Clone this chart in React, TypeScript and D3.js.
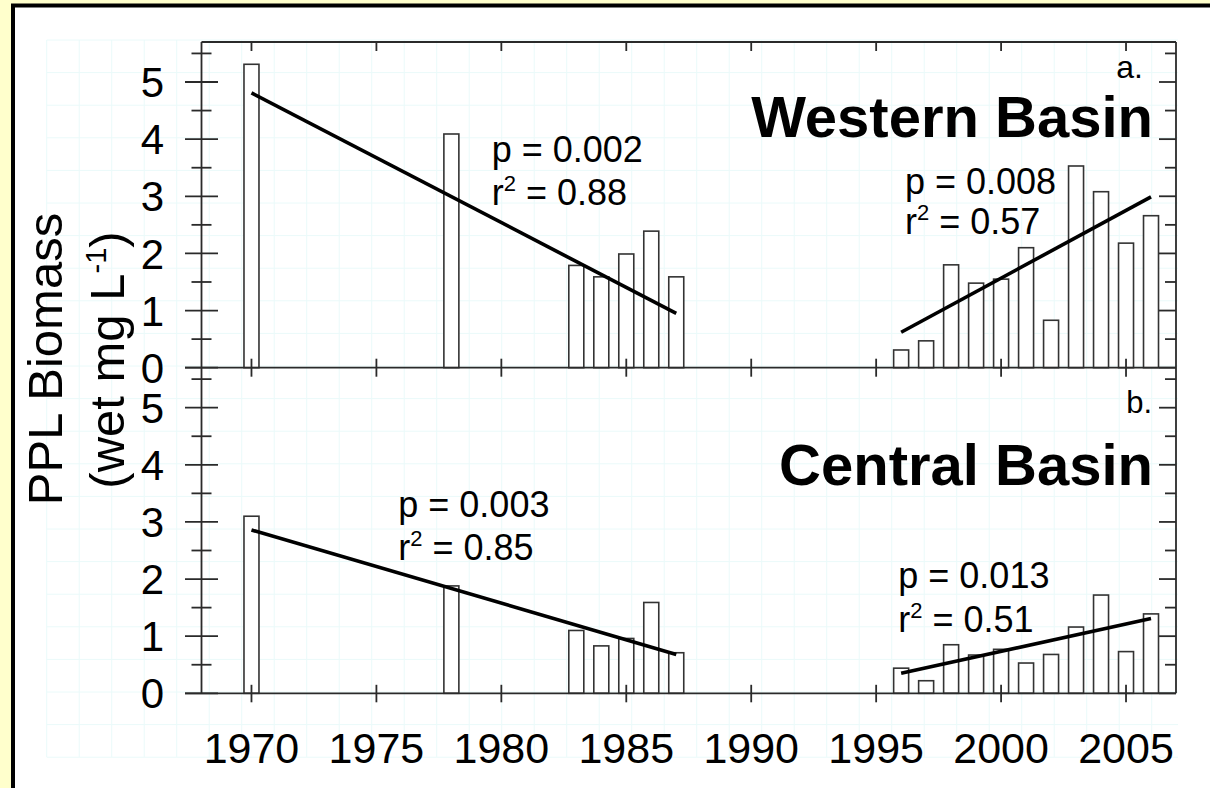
import React from "react";
import * as d3 from "d3";

// ---------- data ----------
const years = [1970, 1978, 1983, 1984, 1985, 1986, 1987, 1996, 1997, 1998, 1999, 2000, 2001, 2002, 2003, 2004, 2005, 2006];
const westernValues = [5.31, 4.09, 1.79, 1.59, 1.99, 2.39, 1.59, 0.31, 0.47, 1.8, 1.48, 1.55, 2.1, 0.83, 3.53, 3.08, 2.18, 2.66];
const centralValues = [3.1, 1.88, 1.1, 0.83, 0.96, 1.59, 0.71, 0.44, 0.22, 0.85, 0.67, 0.77, 0.53, 0.68, 1.16, 1.72, 0.73, 1.39];

const trendYearsEarly = [1970, 1987];
const trendYearsLate = [1996, 2006];
const westernTrendEarly = [4.81, 0.95];
const westernTrendLate = [0.62, 2.99];
const centralTrendEarly = [2.86, 0.68];
const centralTrendLate = [0.35, 1.31];

const xTickValues = [1970, 1975, 1980, 1985, 1990, 1995, 2000, 2005];
const yMajorTicks = [0, 1, 2, 3, 4, 5];
const yMinorTicks = [0.5, 1.5, 2.5, 3.5, 4.5, 5.5];

const westernStats = ["0.002", "0.88", "0.008", "0.57"];
const centralStats = ["0.003", "0.85", "0.013", "0.51"];

// ---------- layout ----------
const W = 1210;
const H = 788;
const FONT = "'Liberation Sans', Arial, Helvetica, sans-serif";
const LEFT = 201.5;
const RIGHT = 1176;
const TOP = 42;
const MID = 367.7;
const BOTTOM = 693.3;

const x = d3.scaleLinear().domain([1968, 2007]).range([LEFT, RIGHT]);
const yTop = d3.scaleLinear().domain([0, 5.7]).range([MID, TOP]);
const yBot = d3.scaleLinear().domain([0, 5.7]).range([BOTTOM, MID]);

const barW = (x(1) - x(0)) * 0.6;
const axisColor = "#2a2a2a";

function Panel({ values, y, trendEarly, trendLate }: { values: number[]; y: d3.ScaleLinear<number, number>; trendEarly: number[]; trendLate: number[] }) {
  const line = d3
    .line<[number, number]>()
    .x((d) => x(d[0]))
    .y((d) => y(d[1]));
  const early = trendYearsEarly.map((yr, i) => [yr, trendEarly[i]] as [number, number]);
  const late = trendYearsLate.map((yr, i) => [yr, trendLate[i]] as [number, number]);
  return (
    <g>
      {years.map((yr, i) => (
        <rect
          key={yr}
          x={x(yr) - barW / 2}
          y={y(values[i])}
          width={barW}
          height={y(0) - y(values[i])}
          fill="#fff"
          stroke="#333"
          strokeWidth={1.6}
        />
      ))}
      <path d={line(early) || ""} fill="none" stroke="#000" strokeWidth={3.6} />
      <path d={line(late) || ""} fill="none" stroke="#000" strokeWidth={3.6} />
    </g>
  );
}

function YAxis({ y }: { y: d3.ScaleLinear<number, number> }) {
  return (
    <g stroke={axisColor} strokeWidth={1.8}>
      {yMajorTicks.map((t) => (
        <g key={"M" + t}>
          <line x1={LEFT - 16.5} x2={LEFT + 16.5} y1={y(t)} y2={y(t)} />
          <line x1={RIGHT - 17} x2={RIGHT} y1={y(t)} y2={y(t)} />
        </g>
      ))}
      {yMinorTicks.map((t) => (
        <g key={"m" + t}>
          <line x1={LEFT - 10} x2={LEFT + 10} y1={y(t)} y2={y(t)} />
          <line x1={RIGHT - 11} x2={RIGHT} y1={y(t)} y2={y(t)} />
        </g>
      ))}
      {yMajorTicks.map((t) => (
        <text
          key={"l" + t}
          x={164}
          y={y(t)}
          dy="0.36em"
          textAnchor="end"
          fontSize={42}
          fontFamily={FONT}
          fill="#000"
          stroke="none"
        >
          {t}
        </text>
      ))}
    </g>
  );
}

function Stats({ px, py, gap, p, r }: { px: number; py: number; gap: number; p: string; r: string }) {
  return (
    <g fontFamily={FONT} fontSize={36} fill="#000">
      <text x={px} y={py}>{`p = ${p}`}</text>
      <text x={px} y={py + gap}>
        r<tspan dy={-14} fontSize={22}>2</tspan>
        <tspan dy={14}>{` = ${r}`}</tspan>
      </text>
    </g>
  );
}

export default function App() {
  const gridX = d3.range(0, 35).map((i) => 46.7 + i * 32.5);
  const gridY = d3.range(0, 23).map((i) => 40 + i * 32.6);
  return (
    <svg
      width={W}
      height={H}
      viewBox={`0 0 ${W} ${H}`}
      style={{ position: "absolute", left: 0, top: 0, display: "block" }}
    >
      <rect x={0} y={0} width={W} height={H} fill="#ffffcc" />
      <rect x={13} y={5.5} width={1400} height={1000} fill="#fff" stroke="#000" strokeWidth={4} />

      {/* faint background grid */}
      <g stroke="#eafafa" strokeWidth={1}>
        {gridX.map((gx) => (
          <line key={"gx" + gx} x1={gx} x2={gx} y1={40} y2={757} />
        ))}
        {gridY.map((gy) => (
          <line key={"gy" + gy} x1={46.7} x2={1178} y1={gy} y2={gy} />
        ))}
      </g>

      <Panel values={westernValues} y={yTop} trendEarly={westernTrendEarly} trendLate={westernTrendLate} />
      <Panel values={centralValues} y={yBot} trendEarly={centralTrendEarly} trendLate={centralTrendLate} />

      {/* frame */}
      <g stroke={axisColor} strokeWidth={1.8} fill="none">
        <line x1={LEFT} x2={RIGHT} y1={TOP} y2={TOP} />
        <line x1={LEFT} x2={LEFT} y1={TOP} y2={BOTTOM} />
        <line x1={RIGHT} x2={RIGHT} y1={TOP} y2={BOTTOM} />
        <line x1={LEFT - 16.5} x2={RIGHT} y1={MID} y2={MID} />
        <line x1={LEFT - 16.5} x2={RIGHT} y1={BOTTOM} y2={BOTTOM} />
        {xTickValues.map((t) => (
          <g key={"xt" + t}>
            <line x1={x(t)} x2={x(t)} y1={TOP} y2={TOP + 9} />
            <line x1={x(t)} x2={x(t)} y1={MID - 9} y2={MID + 9} />
            <line x1={x(t)} x2={x(t)} y1={BOTTOM - 8.5} y2={BOTTOM + 9} />
          </g>
        ))}
      </g>

      <YAxis y={yTop} />
      <YAxis y={yBot} />

      {/* x labels */}
      <g fontFamily={FONT} fontSize={43} fill="#000" textAnchor="middle">
        {xTickValues.map((t) => (
          <text key={"xl" + t} x={x(t)} y={763}>
            {t}
          </text>
        ))}
      </g>

      {/* y title */}
      <g fontFamily={FONT} fontSize={49} fill="#000" textAnchor="middle">
        <text transform="translate(62,359) rotate(-90)">PPL Biomass</text>
        <text transform="translate(124,360) rotate(-90)">
          (wet mg L<tspan dy={-18} fontSize={29}>-1</tspan>
          <tspan dy={18}>)</tspan>
        </text>
      </g>

      {/* panel titles */}
      <g fontFamily={FONT} fill="#000" textAnchor="end">
        <text x={1143} y={78} fontSize={32}>a.</text>
        <text x={1153} y={136.7} fontSize={58} fontWeight="bold">Western Basin</text>
        <text x={1152} y={413.3} fontSize={31}>b.</text>
        <text x={1153} y={485} fontSize={58} fontWeight="bold">Central Basin</text>
      </g>

      <Stats px={491.7} py={161.7} gap={43.3} p={westernStats[0]} r={westernStats[1]} />
      <Stats px={905} py={194} gap={40} p={westernStats[2]} r={westernStats[3]} />
      <Stats px={398.3} py={516.7} gap={43.3} p={centralStats[0]} r={centralStats[1]} />
      <Stats px={898.3} py={588.3} gap={43.3} p={centralStats[2]} r={centralStats[3]} />
    </svg>
  );
}
